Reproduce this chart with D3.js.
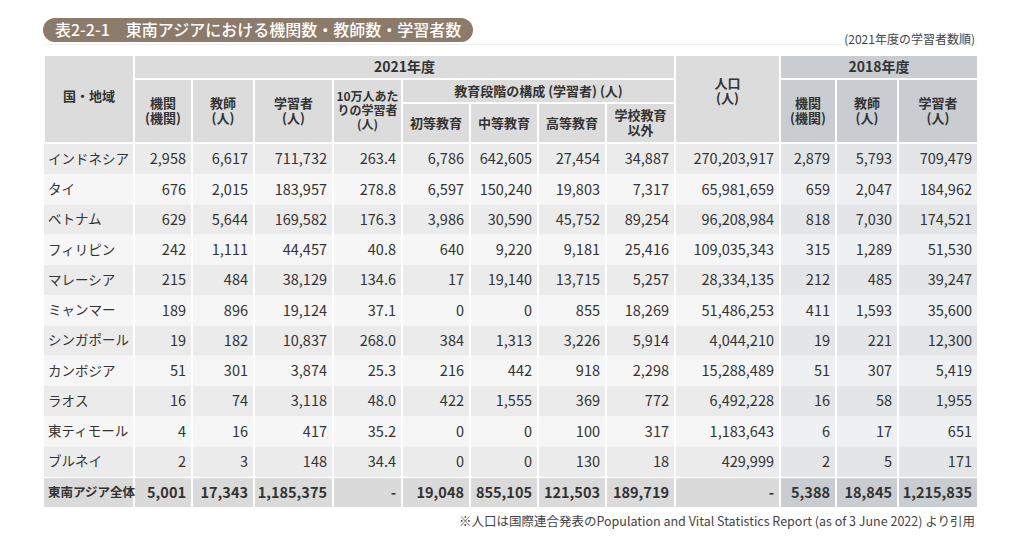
<!doctype html>
<html lang="ja">
<head>
<meta charset="utf-8">
<title>表2-2-1</title>
<style>
  body { margin: 0; background: #fff; }
  svg { display: block; font-family: "Noto Sans CJK JP", "Noto Sans", sans-serif; }
  .num { font-size: 14.5px; fill: #333; }
  .hd { font-size: 13px; font-weight: bold; fill: #333; }
</style>
</head>
<body>
<div id="chart"></div>
<script src="https://cdn.jsdelivr.net/npm/d3@7"></script>
<script>
(function () {
  // data (2021年度の学習者数順)
  var countries = ["インドネシア", "タイ", "ベトナム", "フィリピン", "マレーシア", "ミャンマー",
    "シンガポール", "カンボジア", "ラオス", "東ティモール", "ブルネイ"];
  var institutions2021 = [2958, 676, 629, 242, 215, 189, 19, 51, 16, 4, 2];
  var teachers2021 = [6617, 2015, 5644, 1111, 484, 896, 182, 301, 74, 16, 3];
  var learners2021 = [711732, 183957, 169582, 44457, 38129, 19124, 10837, 3874, 3118, 417, 148];
  var per100k = [263.4, 278.8, 176.3, 40.8, 134.6, 37.1, 268.0, 25.3, 48.0, 35.2, 34.4];
  var primary = [6786, 6597, 3986, 640, 17, 0, 384, 216, 422, 0, 0];
  var secondary = [642605, 150240, 30590, 9220, 19140, 0, 1313, 442, 1555, 0, 0];
  var higher = [27454, 19803, 45752, 9181, 13715, 855, 3226, 918, 369, 100, 130];
  var nonSchool = [34887, 7317, 89254, 25416, 5257, 18269, 5914, 2298, 772, 317, 18];
  var population = [270203917, 65981659, 96208984, 109035343, 28334135, 51486253, 4044210,
    15288489, 6492228, 1183643, 429999];
  var institutions2018 = [2879, 659, 818, 315, 212, 411, 19, 51, 16, 6, 2];
  var teachers2018 = [5793, 2047, 7030, 1289, 485, 1593, 221, 307, 58, 17, 5];
  var learners2018 = [709479, 184962, 174521, 51530, 39247, 35600, 12300, 5419, 1955, 651, 171];
  var totalLabel = "東南アジア全体";
  var totals = [5001, 17343, 1185375, null, 19048, 855105, 121503, 189719, null, 5388, 18845, 1215835];

  var width = 1024, height = 542;
  var colWidths = [90, 58, 62, 79, 69, 68, 68, 68, 69, 105, 56, 62, 80];
  var left = 44;
  var edges = [left].concat(Array.from(d3.cumsum(colWidths), function (d) { return left + d; }));
  var hy = [55, 79, 103, 143];   // header row lines

  var fmtInt = d3.format(",");
  var fmt1 = d3.format(".1f");

  var series = [institutions2021, teachers2021, learners2021, per100k, primary, secondary,
    higher, nonSchool, population, institutions2018, teachers2018, learners2018];

  var rows = countries.map(function (c, i) {
    return { name: c, total: false, values: series.map(function (s) { return s[i]; }) };
  });
  rows.push({ name: totalLabel, total: true, values: totals });

  var y = d3.scaleBand().domain(d3.range(rows.length)).range([hy[3] + 1, 507]);

  var svg = d3.select("#chart").append("svg").attr("width", width).attr("height", height);

  // title pill
  svg.append("rect").attr("x", 43).attr("y", 18).attr("width", 430).attr("height", 24)
    .attr("rx", 12).attr("fill", "#8c7a6b");
  svg.append("line").attr("x1", 43).attr("x2", 978).attr("y1", 44.5).attr("y2", 44.5)
    .attr("stroke", "#f0f0f0");
  svg.append("text").attr("x", 55).attr("y", 36).attr("fill", "#fff")
    .style("font-size", "16px").style("font-weight", "500")
    .text("表2-2-1　東南アジアにおける機関数・教師数・学習者数");
  svg.append("text").attr("x", 975).attr("y", 44).attr("text-anchor", "end")
    .style("font-size", "12px").attr("fill", "#444").text("(2021年度の学習者数順)");

  // header cells: [col start, col end, row start, row end, lines, fontsize, dy]
  var header = [
    [0, 1, 0, 3, ["国・地域"], 13, -3],
    [1, 9, 0, 1, ["2021年度"], 14, 0],
    [1, 2, 1, 3, ["機関", "(機関)"], 13, 0],
    [2, 3, 1, 3, ["教師", "(人)"], 13, 0],
    [3, 4, 1, 3, ["学習者", "(人)"], 13, 0],
    [4, 5, 1, 3, ["10万人あた", "りの学習者", "(人)"], 12, 0],
    [5, 9, 1, 2, ["教育段階の構成 (学習者) (人)"], 13, 0],
    [5, 6, 2, 3, ["初等教育"], 13, 0],
    [6, 7, 2, 3, ["中等教育"], 13, 0],
    [7, 8, 2, 3, ["高等教育"], 13, 0],
    [8, 9, 2, 3, ["学校教育", "以外"], 13, 0],
    [9, 10, 0, 3, ["人口", "(人)"], 13, -8],
    [10, 13, 0, 1, ["2018年度"], 14, 0],
    [10, 11, 1, 3, ["機関", "(機関)"], 13, 0],
    [11, 12, 1, 3, ["教師", "(人)"], 13, 0],
    [12, 13, 1, 3, ["学習者", "(人)"], 13, 0]
  ];

  var hg = svg.append("g");
  var hcell = hg.selectAll("g").data(header).enter().append("g");
  hcell.append("rect")
    .attr("x", function (d) { return edges[d[0]]; })
    .attr("y", function (d) { return hy[d[2]]; })
    .attr("width", function (d) { return edges[d[1]] - edges[d[0]]; })
    .attr("height", function (d) { return hy[d[3]] - hy[d[2]]; })
    .attr("fill", function (d) { return d[0] >= 10 ? "#c9cdd1" : "#dcdcdc"; })
    .attr("stroke", "#fff").attr("stroke-width", 2);
  hcell.each(function (d) {
    var cx = (edges[d[0]] + edges[d[1]]) / 2;
    var cy = (hy[d[2]] + hy[d[3]]) / 2 + d[6];
    var lh = d[5] + 2;
    var n = d[4].length;
    var txt = d3.select(this).append("text").attr("class", "hd")
      .attr("text-anchor", "middle").style("font-size", d[5] + "px");
    d[4].forEach(function (t, k) {
      txt.append("tspan").attr("x", cx).attr("y", cy + (k - (n - 1) / 2) * lh)
        .attr("dy", "0.36em").text(t);
    });
  });

  // body rows
  var bg = svg.append("g");
  var row = bg.selectAll("g.row").data(rows).enter().append("g").attr("class", "row")
    .attr("transform", function (d, i) { return "translate(0," + y(i) + ")"; });

  function cellFill(r, i, c) {
    if (r.total) return c >= 10 ? "#c9ccd0" : "#dadada";
    var odd = i % 2 === 0;
    if (c >= 10) return odd ? "#e3e5e7" : "#eff0f1";
    return odd ? "#ebebeb" : "#f6f6f6";
  }

  row.each(function (r, i) {
    var g = d3.select(this);
    var h = y.bandwidth();
    var top = r.total ? 1.5 : 0;
    for (var c = 0; c < colWidths.length; c++) {
      g.append("rect")
        .attr("x", edges[c] + (c === 0 ? 0 : 1))
        .attr("y", top)
        .attr("width", edges[c + 1] - edges[c] - (c === 0 ? 1 : 2))
        .attr("height", h - top)
        .attr("fill", cellFill(r, i, c));
    }
    g.append("text").attr("x", edges[0] + 4).attr("y", h / 2 + top / 2).attr("dy", "0.36em")
      .attr("class", "num").style("font-size", r.total ? "12.5px" : "13.5px")
      .style("font-weight", r.total ? "bold" : null).text(r.name);
    r.values.forEach(function (v, k) {
      var t = v === null ? "-" : (k === 3 ? fmt1(v) : fmtInt(v));
      g.append("text").attr("x", edges[k + 2] - 6).attr("y", h / 2 + top / 2).attr("dy", "0.36em")
        .attr("text-anchor", "end").attr("class", "num")
        .style("font-weight", r.total ? "bold" : null).text(t);
    });
  });

  svg.append("text").attr("x", 975).attr("y", 526).attr("text-anchor", "end")
    .style("font-size", "12.5px").attr("fill", "#444")
    .text("※人口は国際連合発表のPopulation and Vital Statistics Report (as of 3 June 2022) より引用");
})();
</script>
</body>
</html>
